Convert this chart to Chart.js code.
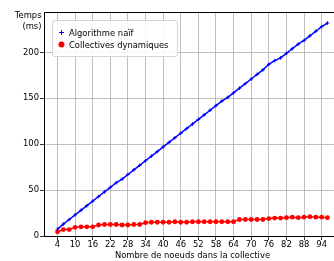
<!DOCTYPE html>
<html>
<head>
<meta charset="utf-8">
<script src="https://cdn.jsdelivr.net/npm/chart.js@4/dist/chart.umd.min.js"></script>
<style>
    body { margin: 0; background: #fff; }
    #wrap { position: relative; width: 334px; height: 261px; overflow: hidden; font-family: 'DejaVu Sans', sans-serif; color: #000; }
    #chart { position: absolute; left: 0; top: 0; }
    #ylabel { position: absolute; left: 0; top: 10px; width: 41.5px; text-align: right; font-size: 8.4px; line-height: 10.5px; }
    #legend { position: absolute; left: 52px; top: 20px; width: 126px; height: 37px; box-sizing: border-box;
              border: 1px solid #d4d4d4; border-radius: 3px; background: rgba(255,255,255,0.85); font-size: 8.4px; }
    .item { position: absolute; left: 0; height: 10px; line-height: 10px; white-space: nowrap; }
    .item svg { position: absolute; left: 5px; top: 1.5px; }
    .item span { position: absolute; left: 16px; top: 0; }
</style>
</head>
<body>
<div id="wrap">
    <canvas id="chart" width="346" height="261"></canvas>
    <div id="ylabel">Temps<br>(ms)</div>
    <div id="legend">
        <div class="item" style="top:6.5px">
            <svg width="7" height="7"><path d="M3.5 1V6M1 3.5H6" stroke="#0000ff" stroke-width="1"/></svg>
            <span>Algorithme naïf</span>
        </div>
        <div class="item" style="top:18.5px">
            <svg width="7" height="7"><circle cx="3.5" cy="3.5" r="3" fill="#ff0000"/></svg>
            <span>Collectives dynamiques</span>
        </div>
    </div>
</div>

<script>
// Values
const nodes = [4, 6, 8, 10, 12, 14, 16, 18, 20, 22, 24, 26, 28, 30, 32, 34, 36, 38, 40, 42, 44, 46, 48, 50,
               52, 54, 56, 58, 60, 62, 64, 66, 68, 70, 72, 74, 76, 78, 80, 82, 84, 86, 88, 90, 92, 94, 96];

const naiveTimes = [7.5, 13, 18, 23, 28, 33, 38, 43, 48, 53, 58, 62, 67, 72, 77, 82, 87, 92, 97, 102, 107, 112, 117, 122,
                    127, 132, 137, 142, 147, 151, 156, 161, 166, 171, 176, 181, 187, 191, 194, 199, 204, 209, 213, 218, 223, 228, 232];

const dynamicTimes = [4.5, 7, 7, 9.5, 10, 10, 10, 12, 12.5, 12.5, 12.5, 12, 12, 12.5, 12.5, 14.5, 15, 15, 15, 15, 15.5, 15, 15, 15.5,
                      15.5, 15.5, 15.5, 15.5, 15.5, 15.5, 15.5, 18, 18, 18, 18, 18, 19, 19.5, 19.5, 20, 20.5, 20, 20.5, 21, 20.5, 20.5, 20];

const xTicks = [4, 10, 16, 22, 28, 34, 40, 46, 52, 58, 64, 70, 76, 82, 88, 94];
const yTicks = [0, 50, 100, 150, 200];

const tickFont = { family: 'DejaVu Sans', size: 8.4 };
const gridColor = '#b0b0b0';

function toPoints(ys) {
    return nodes.map((n, i) => ({ x: n, y: ys[i] }));
}

new Chart(document.getElementById('chart'), {
    type: 'line',
    data: {
        datasets: [
            {
                label: 'Algorithme naïf',
                data: toPoints(naiveTimes),
                borderColor: '#0000ff',
                backgroundColor: '#0000ff',
                borderWidth: 1.5,
                pointStyle: 'cross',
                pointRadius: 1.8,
                pointBorderWidth: 1,
                tension: 0
            },
            {
                label: 'Collectives dynamiques',
                data: toPoints(dynamicTimes),
                borderColor: '#ff0000',
                backgroundColor: '#ff0000',
                borderWidth: 1.5,
                pointStyle: 'circle',
                pointRadius: 2.4,
                pointBorderWidth: 0,
                tension: 0
            }
        ]
    },
    options: {
        responsive: false,
        animation: false,
        layout: { padding: 0 },
        plugins: {
            legend: { display: false },
            tooltip: { enabled: false }
        },
        scales: {
            x: {
                type: 'linear',
                position: 'bottom',
                min: -0.6,
                max: 100.6,
                afterBuildTicks: scale => { scale.ticks = xTicks.map(v => ({ value: v })); },
                afterFit: scale => { scale.height = 25; },
                ticks: { font: tickFont, color: '#000', padding: 0, maxRotation: 0 },
                grid: { color: gridColor, lineWidth: 0.8, tickColor: '#000', tickLength: 4 },
                border: { color: '#000', width: 1 },
                title: {
                    display: true,
                    text: 'Nombre de noeuds dans la collective',
                    font: tickFont,
                    color: '#000',
                    padding: { top: 0, bottom: 0 }
                }
            },
            x2: {
                type: 'linear',
                position: 'top',
                min: -0.6,
                max: 100.6,
                afterFit: scale => { scale.height = 12; },
                ticks: { display: false },
                grid: { display: false, drawTicks: false },
                border: { color: '#000', width: 1 }
            },
            y: {
                type: 'linear',
                min: 0,
                max: 244,
                afterBuildTicks: scale => { scale.ticks = yTicks.map(v => ({ value: v })); },
                afterFit: scale => { scale.width = 44; },
                ticks: { font: tickFont, color: '#000', padding: 1 },
                grid: { color: gridColor, lineWidth: 0.8, tickColor: '#000', tickLength: 4 },
                border: { color: '#000', width: 1 }
            }
        }
    }
});
</script>
</body>
</html>
